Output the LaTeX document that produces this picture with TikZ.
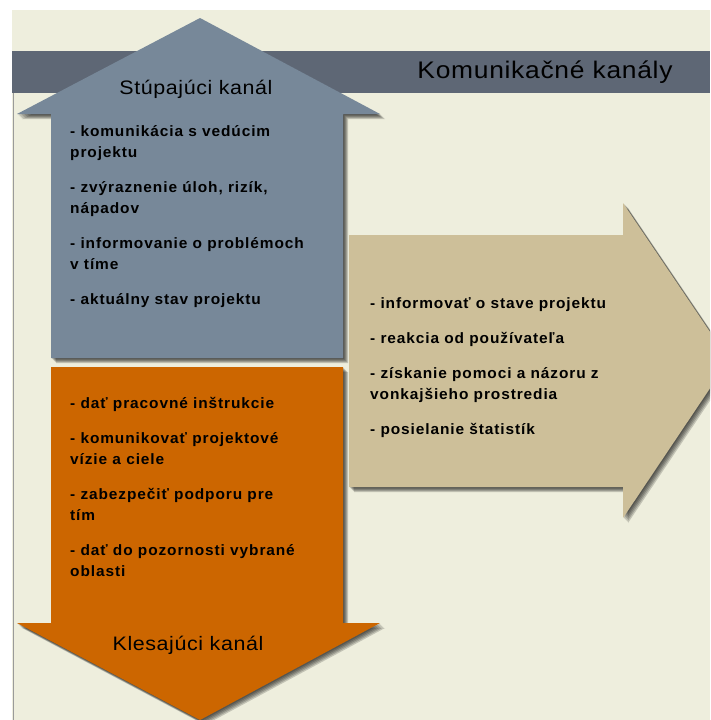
\documentclass[tikz,border=0pt]{standalone}
\usepackage{fontspec}
\setmainfont{Liberation Sans}
\newfontfamily\lsfont[LetterSpace=6,FakeStretch=1.03]{Liberation Sans}
\newfontfamily\hdfont[LetterSpace=3,FakeStretch=1.1]{Liberation Sans}
\definecolor{bgbeige}{HTML}{EEEEDD}
\definecolor{bandgray}{HTML}{5E6775}
\definecolor{slateup}{HTML}{778899}
\definecolor{orangedown}{HTML}{CC6600}
\definecolor{tanright}{HTML}{CDBF99}
\definecolor{leftline}{HTML}{9A9A9A}
\newcommand\uppath{(51,358) -- (51,114) -- (17,114) -- (200,18) -- (380,114) -- (343,114) -- (343,358) -- cycle}
\newcommand\downpath{(51,367) -- (343,367) -- (343,623) -- (380,623) -- (200,720) -- (17,623) -- (51,623) -- cycle}
\newcommand\rightpath{(349,235) -- (623,235) -- (623,203) -- (729,360) -- (623,518) -- (623,487) -- (349,487) -- cycle}
\newcommand\softshadow[1]{\foreach \k in {1,...,5}{\fill[black,opacity=0.18,shift={(\k,\k)}] #1;}}
\begin{document}
\begin{tikzpicture}[x=1pt,y=-1pt,
  itemtext/.style={anchor=north west, inner sep=0pt, align=left, text=black,
    font=\lsfont\bfseries\fontsize{15}{21}\selectfont},
  heading/.style={inner sep=0pt, text=black, font=\hdfont\fontsize{19.5}{23}\selectfont},
  titletext/.style={inner sep=0pt, text=black, font=\hdfont\fontsize{24}{28}\selectfont}]
\useasboundingbox (0,0) rectangle (710,720);
\fill[white] (0,0) rectangle (710,720);
\begin{scope}
\clip (0,0) rectangle (710,720);
\fill[bgbeige] (12,10) rectangle (710,720);
\fill[bandgray] (12,51) rectangle (710,93);
\draw[leftline, line width=1.5pt] (13.5,93) -- (13.5,720);
\node[titletext] (title) at (545,72) {Komunikačné kanály};
% up arrow
\softshadow{\uppath}
\fill[slateup] \uppath;
% down arrow
\softshadow{\downpath}
\fill[orangedown] \downpath;
% right arrow
\softshadow{\rightpath}
\fill[tanright] \rightpath;
\end{scope}
\node[heading] (uphead) at (196,89) {Stúpajúci kanál};
\node[heading] (downhead) at (188,645) {Klesajúci kanál};
\node[itemtext] (uplist) at (70,121.3) {\strut- komunikácia s vedúcim\\projektu\\[14pt]- zvýraznenie úloh, rizík,\\nápadov\\[14pt]- informovanie o problémoch\\v tíme\\[14pt]- aktuálny stav projektu};
\node[itemtext] (rightlist) at (370,293.3) {\strut- informovať o stave projektu\\[14pt]- reakcia od používateľa\\[14pt]- získanie pomoci a názoru z\\vonkajšieho prostredia\\[14pt]- posielanie štatistík};
\node[itemtext] (downlist) at (70,393.3) {\strut- dať pracovné inštrukcie\\[14pt]- komunikovať projektové\\vízie a ciele\\[14pt]- zabezpečiť podporu pre\\tím\\[14pt]- dať do pozornosti vybrané\\oblasti};
\end{tikzpicture}
\end{document}
